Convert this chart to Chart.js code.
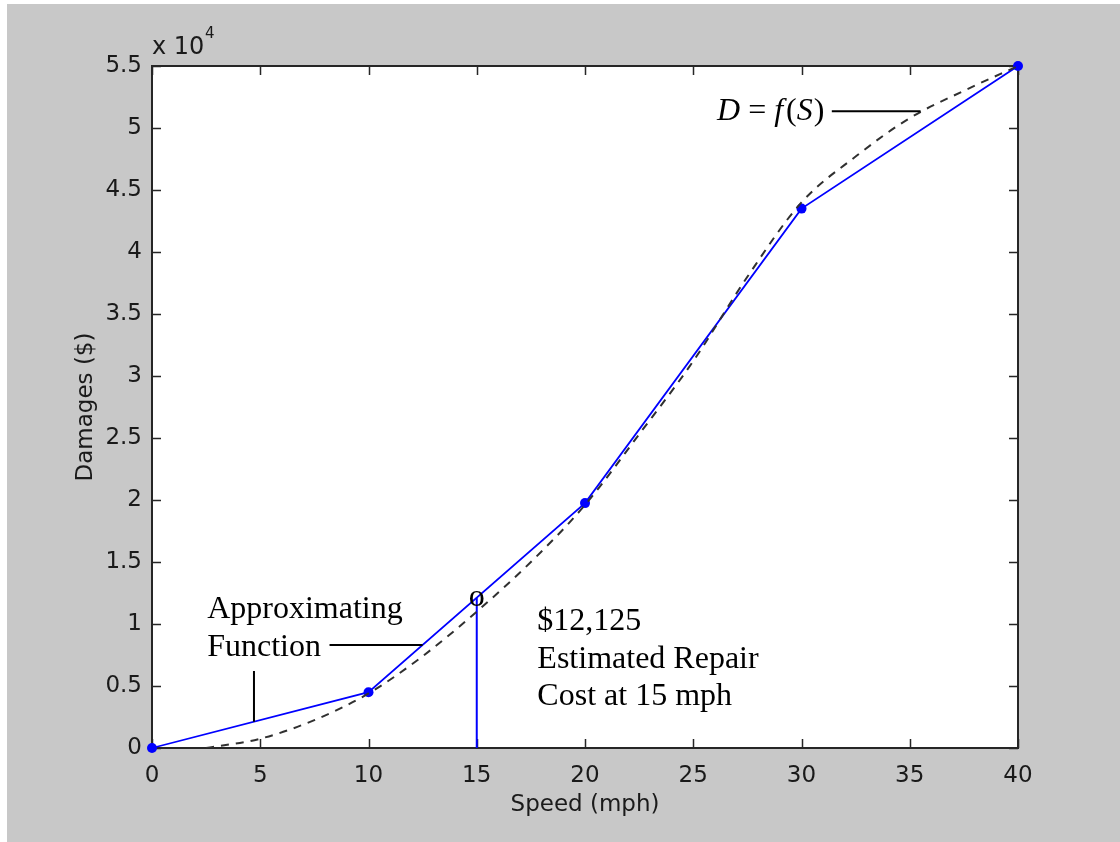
<!DOCTYPE html>
<html>
<head>
<meta charset="utf-8">
<script src="https://cdn.jsdelivr.net/npm/chart.js@4/dist/chart.umd.min.js"></script>
<style>
  html, body { margin: 0; padding: 0; background: #fff; }
  canvas { display: block; }
</style>
</head>
<body>
<canvas id="chart" width="1120" height="842"></canvas>
<script>
// damage curve D = f(S), dashed
const curveSpeed = [2.5, 5, 7.5, 10, 12.5, 15, 17.5, 20, 22.5, 25, 27.5, 30, 32.5, 35, 37.5, 40];
const curveDamage = [0, 750, 2250, 4400, 7400, 11000, 15000, 19600, 25300, 31200, 38000, 44000, 47700, 50800, 53000, 55000];

// piecewise linear approximation through the sample points
const sampleSpeed = [0, 10, 20, 30, 40];
const sampleDamage = [0, 4500, 19750, 43500, 55000];

// estimate at 15 mph
const estSpeed = 15;
const estDamage = 12125;

const xTicks = [0, 5, 10, 15, 20, 25, 30, 35, 40];
const yTicks = [0, 5000, 10000, 15000, 20000, 25000, 30000, 35000, 40000, 45000, 50000, 55000];

const axisFont = '23px "DejaVu Sans"';
const serifFont = '32px "Liberation Serif"';
const serifItalic = 'italic 32px "Liberation Serif"';
const inkColor = '#1a1a1a';

function toPoints(xs, ys) {
  return xs.map((x, i) => ({ x: x, y: ys[i] }));
}

// gray figure background, white axes box, frame and inward ticks
const matlabAxes = {
  id: 'matlabAxes',
  beforeDraw(chart) {
    const { ctx, chartArea: a } = chart;
    ctx.save();
    ctx.fillStyle = '#ffffff';
    ctx.fillRect(0, 0, chart.width, chart.height);
    ctx.fillStyle = '#c8c8c8';
    ctx.fillRect(7, 4, chart.width - 7, chart.height - 4);
    ctx.fillStyle = '#ffffff';
    ctx.fillRect(a.left, a.top, a.right - a.left, a.bottom - a.top);
    ctx.restore();
  },
  beforeDatasetsDraw(chart) {
    const { ctx, chartArea: a, scales } = chart;
    const tl = 9;
    ctx.save();
    ctx.strokeStyle = '#262626';
    ctx.lineWidth = 1.5;
    ctx.beginPath();
    xTicks.forEach(v => {
      const px = Math.round(scales.x.getPixelForValue(v)) + 0.5;
      ctx.moveTo(px, a.bottom); ctx.lineTo(px, a.bottom - tl);
      ctx.moveTo(px, a.top); ctx.lineTo(px, a.top + tl);
    });
    yTicks.forEach(v => {
      const py = Math.round(scales.y.getPixelForValue(v)) + 0.5;
      ctx.moveTo(a.left, py); ctx.lineTo(a.left + tl, py);
      ctx.moveTo(a.right, py); ctx.lineTo(a.right - tl, py);
    });
    ctx.stroke();
    ctx.lineWidth = 2;
    ctx.strokeRect(a.left, a.top, a.right - a.left, a.bottom - a.top);
    ctx.restore();
  },
  afterDraw(chart) {
    const { ctx, chartArea: a, scales } = chart;
    const sx = v => scales.x.getPixelForValue(v);
    const sy = v => scales.y.getPixelForValue(v);
    ctx.save();

    // axis titles and exponent
    ctx.fillStyle = inkColor;
    ctx.font = axisFont;
    ctx.textAlign = 'center';
    ctx.textBaseline = 'middle';
    ctx.fillText('Speed (mph)', (a.left + a.right) / 2, 805);
    ctx.save();
    ctx.translate(86, (a.top + a.bottom) / 2);
    ctx.rotate(-Math.PI / 2);
    ctx.fillText('Damages ($)', 0, 0);
    ctx.restore();
    ctx.textAlign = 'left';
    ctx.textBaseline = 'alphabetic';
    ctx.font = '24px "DejaVu Sans"';
    ctx.fillText('x 10', a.left, 54);
    ctx.font = '15px "DejaVu Sans"';
    ctx.fillText('4', 205, 38);

    // annotations
    ctx.fillStyle = '#000';
    ctx.font = serifFont;
    ctx.fillText('Approximating', sx(2.55), sy(10500));
    ctx.fillText('Function', sx(2.55), sy(7400));
    ctx.fillText('$12,125', sx(17.8), sy(9500));
    ctx.fillText('Estimated Repair', sx(17.8), sy(6450));
    ctx.fillText('Cost at 15 mph', sx(17.8), sy(3450));
    ctx.textAlign = 'center';
    ctx.fillText('o', sx(estSpeed), sy(estDamage) + 8);

    // D = f(S) with italic symbols
    ctx.textAlign = 'left';
    const base = sy(50650);
    let x = sx(26.1);
    [['D', serifItalic, 0], [' = ', serifFont, 0], ['f', serifItalic, 3],
     ['(', serifFont, 0], ['S', serifItalic, 1], [')', serifFont, 0]].forEach(([t, f, gap]) => {
      ctx.font = f;
      ctx.fillText(t, x, base);
      x += ctx.measureText(t).width + gap;
    });

    // leader lines
    ctx.strokeStyle = '#000';
    ctx.lineWidth = 2;
    ctx.beginPath();
    ctx.moveTo(sx(8.2), sy(8300)); ctx.lineTo(sx(12.5), sy(8300));
    ctx.moveTo(sx(4.71), sy(6200)); ctx.lineTo(sx(4.71), sy(2120));
    ctx.moveTo(sx(31.4), sy(51350)); ctx.lineTo(sx(35.5), sy(51350));
    ctx.stroke();
    ctx.restore();
  }
};

new Chart(document.getElementById('chart'), {
  type: 'line',
  data: {
    datasets: [
      {
        label: 'D = f(S)',
        data: toPoints(curveSpeed, curveDamage),
        borderColor: '#303030',
        borderWidth: 2,
        borderDash: [8, 7],
        pointRadius: 0,
        cubicInterpolationMode: 'monotone',
        order: 0
      },
      {
        label: 'Approximating Function',
        data: toPoints(sampleSpeed, sampleDamage),
        borderColor: '#0000ff',
        borderWidth: 1.8,
        pointRadius: 5,
        pointBackgroundColor: '#0000ff',
        pointBorderWidth: 0,
        clip: false,
        order: 1
      },
      {
        label: 'Estimate',
        data: [{ x: estSpeed, y: 0 }, { x: estSpeed, y: estDamage }],
        borderColor: '#0000ff',
        borderWidth: 2,
        pointRadius: 0,
        order: 2
      }
    ]
  },
  options: {
    responsive: false,
    devicePixelRatio: 1,
    animation: false,
    layout: { padding: { left: 0, top: 66, right: 102, bottom: 0 } },
    plugins: { legend: { display: false }, tooltip: { enabled: false } },
    scales: {
      x: {
        type: 'linear',
        min: 0, max: 40,
        afterFit: s => { s.height = 94; },
        afterBuildTicks: s => { s.ticks = xTicks.map(v => ({ value: v })); },
        grid: { display: false, drawTicks: false },
        border: { display: false },
        ticks: { font: { family: 'DejaVu Sans', size: 23 }, color: inkColor, padding: 14, maxRotation: 0 }
      },
      y: {
        type: 'linear',
        min: 0, max: 55000,
        afterFit: s => { s.width = 152; },
        afterBuildTicks: s => { s.ticks = yTicks.map(v => ({ value: v })); },
        grid: { display: false, drawTicks: false },
        border: { display: false },
        ticks: {
          font: { family: 'DejaVu Sans', size: 23 },
          color: inkColor,
          padding: 10,
          callback: v => String(v / 10000)
        }
      }
    }
  },
  plugins: [matlabAxes]
});
</script>
</body>
</html>
